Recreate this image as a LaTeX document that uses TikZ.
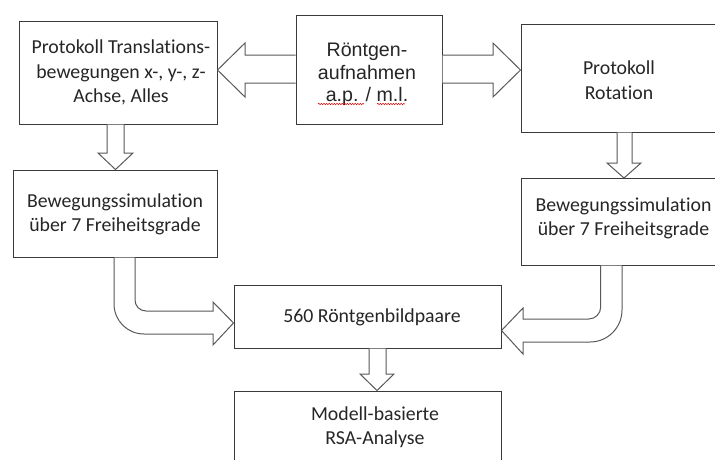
\documentclass[tikz,border=0pt]{standalone}
\usepackage{fontspec}
\setmainfont[Ligatures=NoCommon]{Carlito}
\newfontfamily\arialf{Liberation Sans}
\usetikzlibrary{calc,decorations.pathmorphing}
\definecolor{txtc}{HTML}{262626}
\definecolor{boxc}{HTML}{3A3A3A}
\definecolor{arrc}{HTML}{595959}
\begin{document}
\begin{tikzpicture}[x=1pt,y=-1pt,
  box/.style={draw=boxc, line width=1pt, fill=white, rectangle, inner sep=0pt},
  txt/.style={align=center, text=txtc, inner sep=0pt, font=\fontsize{19.8}{24.4}\selectfont},
  atxt/.style={align=center, text=txtc, inner sep=0pt, font=\arialf\fontsize{19.6}{22.6}\selectfont},
  blk/.style={draw=arrc, line width=1pt, fill=white, line join=miter},
  squig/.style={draw=red!85!black, line width=0.5pt, decorate, decoration={snake, amplitude=0.7pt, segment length=2.6pt}}
]
\useasboundingbox (0,0) rectangle (715,459);
\clip (0,0) rectangle (715,459);

% boxes
\node[box, minimum width=197.5pt, minimum height=103pt] (A) at (118.25,72.5) {};
\node[box, minimum width=146pt, minimum height=109pt] (B) at (369,69.5) {};
\node[box, minimum width=201pt, minimum height=108pt] (C) at (621.5,78) {};
\node[box, minimum width=204pt, minimum height=87pt] (D) at (115,213.5) {};
\node[box, minimum width=201pt, minimum height=86.5pt] (E) at (621.5,221.75) {};
\node[box, minimum width=267pt, minimum height=63pt] (F) at (367.5,316.5) {};
\node[box, minimum width=267pt, minimum height=72pt] (G) at (367.5,427) {};

% texts
\node[txt] (tA) at (121,72.5) {Protokoll Translations-\\bewegungen x-, y-, z-\\Achse, Alles};
\node[atxt] (tB) at (367,74.5) {Röntgen-\\aufnahmen\\a.p. / m.l.};
\node[txt] (tC) at (619,80) {Protokoll\\Rotation};
\node[txt] (tD) at (115,214.5) {Bewegungssimulation\\über 7 Freiheitsgrade};
\node[txt] (tE) at (623.5,218.5) {Bewegungssimulation\\über 7 Freiheitsgrade};
\node[txt] (tF) at (372,317) {560 Röntgenbildpaare};
\node[txt] (tG) at (375,427) {Modell-basierte\\RSA-Analyse};

% spell-check squiggles
\draw[squig] (318,104) -- (364,104);
\draw[squig] (377,104) -- (405,104);

% block arrows
\draw[blk] (B.west |- 0,55) -- (245,55) -- (245,43) -- (A.east |- 0,70) -- (245,97) -- (245,83) -- (B.west |- 0,83);
\draw[blk] (B.east |- 0,55) -- (493,55) -- (493,43) -- (C.west |- 0,70) -- (493,97) -- (493,83) -- (B.east |- 0,83);
\draw[blk] (A.south -| 107,0) -- (107,153) -- (98,153) -- (D.north -| 115.5,0) -- (133,153) -- (124,153) -- (A.south -| 124,0);
\draw[blk] (C.south -| 617,0) -- (617,163) -- (607,163) -- (E.north -| 624,0) -- (641,163) -- (632,163) -- (C.south -| 632,0);
\draw[blk] (F.south -| 369,0) -- (369,374) -- (360,374) -- (G.north -| 377,0) -- (394,374) -- (386,374) -- (F.south -| 386,0);

\draw[blk] (D.south -| 114,0) -- (114,304) .. controls (114,320.6) and (127.4,334) .. (144,334)
  -- (213,334) -- (213,345) -- (F.west |- 0,323) -- (213,302) -- (213,311)
  -- (146,311) .. controls (139.9,311) and (135,306.1) .. (135,300) -- (D.south -| 135,0);

\draw[blk] (E.south -| 622,0) -- (622,310) .. controls (622,327.7) and (607.7,342) .. (590,342)
  -- (523,342) -- (523,354) -- (F.east |- 0,330.5) -- (523,308) -- (523,319)
  -- (588.7,319) .. controls (595.3,319) and (600.7,313.6) .. (600.7,307) -- (E.south -| 600.7,0);
\end{tikzpicture}
\end{document}
